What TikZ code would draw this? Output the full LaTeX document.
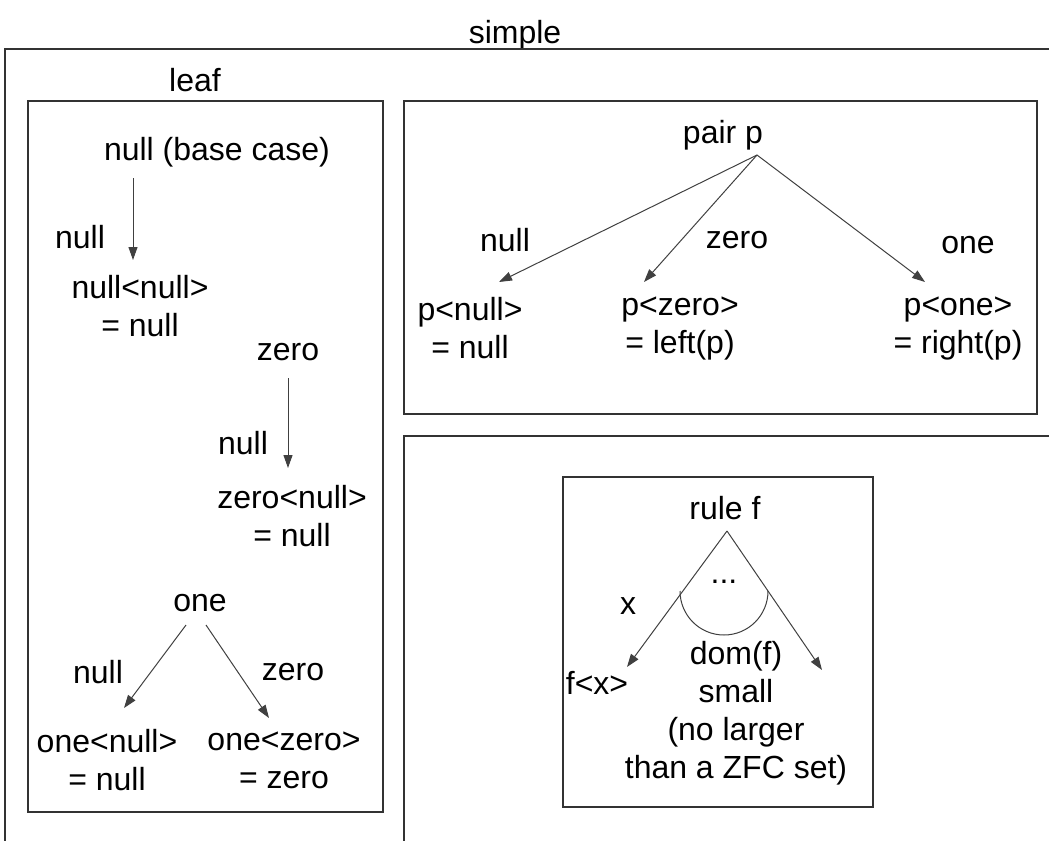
\documentclass[tikz,border=0pt]{standalone}
\usepackage{fontspec}
\setmainfont{Liberation Sans}
\usetikzlibrary{arrows.meta, positioning}

\begin{document}
\begin{tikzpicture}[
    x=1pt, y=-1pt,
    every node/.style={font=\fontsize{32}{38}\selectfont, inner sep=0pt, align=center},
    frame/.style={draw=black!80, line width=1.4pt},
    link/.style={draw=black!75, line width=1pt, -{Triangle[length=13pt, width=9pt]}}
]
    \useasboundingbox (0,0) rectangle (1049,841);

    % Frames
    \node (simple) at (515,35) {simple};
    \draw[frame] (1049,49) -- (5,49) -- (5,841);
    \node (leaf) at (195,80) {leaf};
    \draw[frame] (28,101) rectangle (383,812);
    \draw[frame] (404,101) rectangle (1037,414);
    \draw[frame] (1049,436) -- (404,436) -- (404,841);
    \draw[frame] (563,477) rectangle (873,807);

    % Leaf nodes
    \node (base) at (217,152) {null (base case)};
    \node (nullnull) at (140,306) {null<null>\\= null};
    \node (zero) at (288,352) {zero};
    \node (zeronull) at (292,516) {zero<null>\\= null};
    \node (one) at (200,603) {one};
    \node (onenull) at (107,760) {one<null>\\= null};
    \node (onezero) at (284,760) {one<zero>\\= zero};

    % Leaf labels
    \node (lbl1) at (80,237) {null};
    \node (lbl2) at (243,443) {null};
    \node (lbl3) at (98,672) {null};
    \node (lbl4) at (293,672) {zero};

    % Leaf paths
    \coordinate (basefoot) at (133,178);
    \coordinate (nullnulltip) at (133,260);
    \coordinate (zerofoot) at (288,378);
    \coordinate (zeronulltip) at (288,468);
    \coordinate (onefootl) at (186,625);
    \coordinate (onefootr) at (206,625);
    \coordinate (onenulltip) at (124,708);
    \coordinate (onezerotip) at (269,718);
    \draw[link] (basefoot) -- (nullnulltip);
    \draw[link] (zerofoot) -- (zeronulltip);
    \draw[link] (onefootl) -- (onenulltip);
    \draw[link] (onefootr) -- (onezerotip);

    % Pair nodes
    \node (pair) at (723,135) {pair p};
    \node (pnull) at (470,328) {p<null>\\= null};
    \node (pzero) at (680,328) {p<zero>\\= left(p)};
    \node (pone) at (958,328) {p<one>\\= right(p)};
    \node (plbl1) at (505,240) {null};
    \node (plbl2) at (737,240) {zero};
    \node (plbl3) at (968,245) {one};

    % Pair paths
    \coordinate (papex) at (757,155);
    \coordinate (pnulltip) at (499,282);
    \coordinate (pzerotip) at (644,282);
    \coordinate (ponetip) at (925,282);
    \draw[link] (papex) -- (pnulltip);
    \draw[link] (papex) -- (pzerotip);
    \draw[link] (papex) -- (ponetip);

    % Rule nodes
    \node (rule) at (725,508) {rule f};
    \node (dots) at (724,582) {...};
    \node (xlbl) at (628,606) {x};
    \node (fx) at (597,683) {f<x>};
    \node (dom) at (736,713) {dom(f)\\small\\(no larger\\than a ZFC set)};

    % Rule paths
    \coordinate (rapex) at (727,531);
    \coordinate (rlefttip) at (627,667);
    \coordinate (rrighttip) at (822,670);
    \draw[link] (rapex) -- (rlefttip);
    \draw[link] (rapex) -- (rrighttip);
    \draw[draw=black!75, line width=1pt] (680,591) arc[start angle=180, end angle=0, radius=44];
\end{tikzpicture}
\end{document}
